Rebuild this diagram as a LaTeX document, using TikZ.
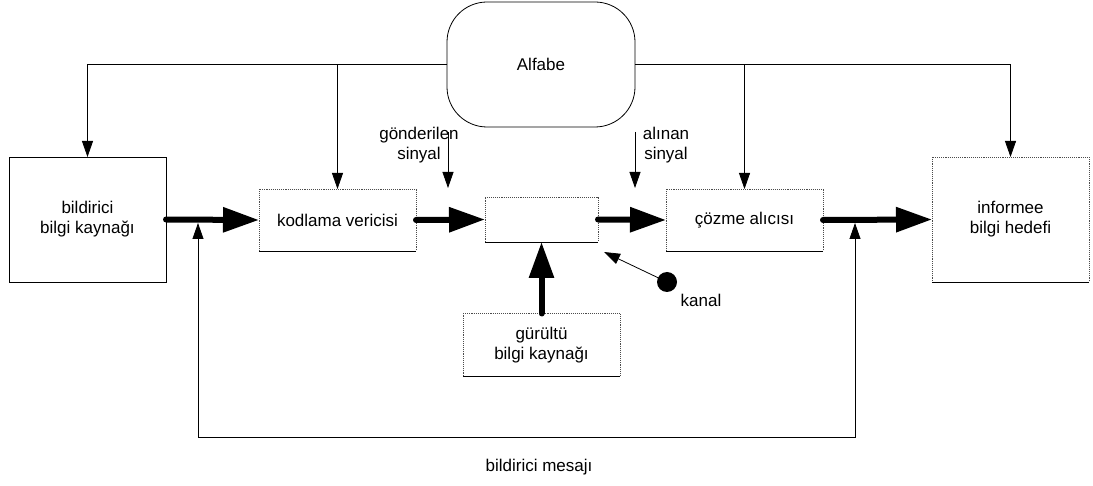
\documentclass[tikz,border=0pt]{standalone}
\usepackage{fontspec}
\setmainfont{Liberation Sans}
\usetikzlibrary{arrows.meta}

\tikzset{
  every node/.style={font=\fontsize{17}{20}\selectfont, inner sep=0pt, outer sep=0pt},
  solidbox/.style={draw=black, line width=0.8pt, align=center},
  dotbox/.style={draw=black!70, densely dotted, line width=0.9pt, align=center},
  label/.style={align=center},
  thinarrow/.style={line width=0.8pt, -{Triangle[length=16pt,width=11pt]}},
  boththin/.style={line width=0.8pt, {Triangle[length=16pt,width=11pt]}-{Triangle[length=16pt,width=11pt]}},
  thickarrow/.style={line width=6pt, line cap=round, -{Triangle[length=36pt,width=24pt]}},
  baseline/.style={draw=black, line width=0.9pt}
}

\begin{document}
\begin{tikzpicture}[x=1pt, y=-1pt]
  \useasboundingbox (0,0) rectangle (1093,486);

  % alphabet shared by all parties
  \node[draw, line width=0.8pt, rounded corners=40pt, minimum width=188pt, minimum height=125pt] (alfabe) at (541,64.5) {Alfabe};

  % main chain
  \node[solidbox, minimum width=157pt, minimum height=125pt] (src) at (87.5,219.5) {bildirici\\bilgi kaynağı};
  \node[dotbox, minimum width=157pt, minimum height=62pt] (enc) at (337.5,220) {kodlama vericisi};
  \node[dotbox, minimum width=113pt, minimum height=45pt] (chan) at (541.5,219.5) {};
  \node[dotbox, minimum width=157pt, minimum height=62pt] (dec) at (744.5,220) {çözme alıcısı};
  \node[dotbox, minimum width=157pt, minimum height=125pt] (dst) at (1010.5,219.5) {informee\\bilgi hedefi};
  \node[dotbox, minimum width=157pt, minimum height=63pt] (noise) at (541.5,345) {gürültü\\bilgi kaynağı};

  % solid lower edges of the dotted boxes
  \foreach \b in {enc,chan,dec,dst,noise}
    \draw[baseline] (\b.south west) -- (\b.south east);

  % alphabet distribution lines
  \draw[thinarrow] (alfabe.west) -| (src.north);
  \draw[thinarrow] (alfabe.west) -| (enc.north);
  \draw[thinarrow] (alfabe.east) -| (dec.north);
  \draw[thinarrow] (alfabe.east) -| (dst.north);

  % signal flow
  \draw[thickarrow] (src.east) -- (enc.west);
  \draw[thickarrow] (enc.east) -- (chan.west);
  \draw[thickarrow] (chan.east) -- (dec.west);
  \draw[thickarrow] (dec.east) -- (dst.west);
  \draw[thickarrow] (noise.north) -- (chan.south);

  % sent / received signal markers
  \node[label] (sent) at (419,145) {gönderilen\\sinyal};
  \coordinate (sentA) at (448,132);
  \coordinate (sentB) at (448,188);
  \draw[thinarrow] (sentA) -- (sentB);

  \node[label] (recv) at (666,145) {alınan\\sinyal};
  \coordinate (recvA) at (635,132);
  \coordinate (recvB) at (635,188);
  \draw[thinarrow] (recvA) -- (recvB);

  % channel pointer
  \node[circle, fill=black, minimum size=20pt] (kdot) at (667,282) {};
  \coordinate (ktip) at (604,252);
  \draw[thinarrow] (kdot) -- (ktip);
  \node[label] (kanal) at (701,300) {kanal};

  % message feedback loop
  \coordinate (fbl) at (198,223);
  \coordinate (fbr) at (855,223);
  \draw[boththin] (fbl) -- ++(0,214) -| (fbr);
  \node[label] (msg) at (539,467) {bildirici mesajı};
\end{tikzpicture}
\end{document}
